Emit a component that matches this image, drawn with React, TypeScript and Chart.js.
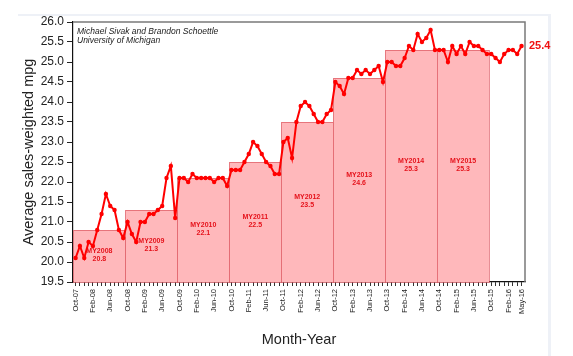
import { useEffect, useRef } from 'react';
import { Chart, registerables } from 'chart.js';

Chart.register(...registerables);

// ---------- data ----------
const MONTH_NAMES = ['Jan', 'Feb', 'Mar', 'Apr', 'May', 'Jun', 'Jul', 'Aug', 'Sep', 'Oct', 'Nov', 'Dec'];
const START_YEAR = 2007;
const START_MONTH = 9; // October

// Monthly average sales-weighted mpg, Oct-07 .. May-16
const mpg = [
  20.1, 20.4, 20.1, 20.5, 20.4, 20.8, 21.2, 21.7, 21.4, 21.3, 20.8, 20.6,
  21.0, 20.7, 20.5, 21.0, 21.0, 21.2, 21.2, 21.3, 21.4, 22.1, 22.4, 21.1,
  22.1, 22.1, 22.0, 22.2, 22.1, 22.1, 22.1, 22.1, 22.0, 22.1, 22.1, 21.9,
  22.3, 22.3, 22.3, 22.5, 22.7, 23.0, 22.9, 22.7, 22.5, 22.4, 22.2, 22.2,
  23.0, 23.1, 22.6, 23.5, 23.9, 24.0, 23.9, 23.7, 23.5, 23.5, 23.7, 23.8,
  24.5, 24.4, 24.2, 24.6, 24.6, 24.8, 24.7, 24.8, 24.7, 24.8, 24.9, 24.5,
  25.0, 25.0, 24.9, 24.9, 25.1, 25.4, 25.3, 25.7, 25.5, 25.6, 25.8, 25.3,
  25.3, 25.3, 25.0, 25.4, 25.2, 25.4, 25.2, 25.5, 25.4, 25.4, 25.3, 25.2,
  25.2, 25.1, 25.0, 25.2, 25.3, 25.3, 25.2, 25.4,
];

const monthLabels = mpg.map((_, i) => {
  const m = START_MONTH + i;
  const year = START_YEAR + Math.floor(m / 12);
  return MONTH_NAMES[m % 12] + '-' + String(year % 100).padStart(2, '0');
});

const shownTickLabels = [
  'Oct-07', 'Feb-08', 'Jun-08', 'Oct-08', 'Feb-09', 'Jun-09', 'Oct-09', 'Feb-10', 'Jun-10',
  'Oct-10', 'Feb-11', 'Jun-11', 'Oct-11', 'Feb-12', 'Jun-12', 'Oct-12', 'Feb-13', 'Jun-13',
  'Oct-13', 'Feb-14', 'Jun-14', 'Oct-14', 'Feb-15', 'Jun-15', 'Oct-15', 'Feb-16', 'May-16',
];

const modelYears = ['MY2008', 'MY2009', 'MY2010', 'MY2011', 'MY2012', 'MY2013', 'MY2014', 'MY2015'];
const modelYearMpg = [20.8, 21.3, 22.1, 22.5, 23.5, 24.6, 25.3, 25.3];
const modelYearStartMonth = ['Oct-07', 'Oct-08', 'Oct-09', 'Oct-10', 'Oct-11', 'Oct-12', 'Oct-13', 'Oct-14'];
const modelYearEndMonth = ['Oct-08', 'Oct-09', 'Oct-10', 'Oct-11', 'Oct-12', 'Oct-13', 'Oct-14', 'Oct-15'];

const yTickValues = [19.5, 20, 20.5, 21, 21.5, 22, 22.5, 23, 23.5, 24, 24.5, 25, 25.5, 26];
const credits = ['Michael Sivak and Brandon Schoettle', 'University of Michigan'];
const yTitle = 'Average sales-weighted mpg';
const xTitle = 'Month-Year';

const FONT = '"Liberation Sans", Arial, Helvetica, sans-serif';
const X_MIN = -0.6;
const X_MAX = 103.8;

const overlayPlugin = {
  id: 'overlay',
  beforeDatasetsDraw(chart: any) {
    const { ctx, chartArea, scales } = chart;
    const x = scales.x;
    const y = scales.y;
    ctx.save();
    modelYears.forEach((name, k) => {
      const s = monthLabels.indexOf(modelYearStartMonth[k]);
      const e = monthLabels.indexOf(modelYearEndMonth[k]);
      const x0 = Math.max(x.getPixelForValue(s - 0.5), chartArea.left);
      const x1 = x.getPixelForValue(e - 0.5);
      const yTop = y.getPixelForValue(modelYearMpg[k]);
      const yBot = y.getPixelForValue(y.min);
      ctx.fillStyle = '#ffb8bb';
      ctx.fillRect(x0, yTop, x1 - x0, yBot - yTop);
      ctx.strokeStyle = 'rgba(215,70,80,0.6)';
      ctx.lineWidth = 1;
      ctx.strokeRect(Math.round(x0) + 0.5, Math.round(yTop) + 0.5, Math.round(x1 - x0), Math.round(yBot - yTop));
      const cx = (x0 + x1) / 2;
      const cy = y.getPixelForValue((modelYearMpg[k] + y.min) / 2);
      ctx.fillStyle = '#e5121b';
      ctx.font = 'bold 7px ' + FONT;
      ctx.textAlign = 'center';
      ctx.textBaseline = 'middle';
      ctx.fillText(name, cx, cy - 5);
      ctx.fillText(modelYearMpg[k].toFixed(1), cx, cy + 3);
    });
    ctx.restore();
  },
  afterDraw(chart: any) {
    const { ctx, chartArea, scales } = chart;
    const y = scales.y;
    ctx.save();
    // top and right frame
    ctx.strokeStyle = '#7a7a7a';
    ctx.lineWidth = 1.5;
    ctx.beginPath();
    ctx.moveTo(chartArea.left, chartArea.top);
    ctx.lineTo(chartArea.right, chartArea.top);
    ctx.lineTo(chartArea.right, chartArea.bottom);
    ctx.stroke();
    // credits
    ctx.fillStyle = '#222';
    ctx.font = 'italic 8.5px ' + FONT;
    ctx.textAlign = 'left';
    ctx.textBaseline = 'alphabetic';
    credits.forEach((t, i) => ctx.fillText(t, chartArea.left + 4, chartArea.top + 11.5 + i * 9.5));
    // end value label
    const last = mpg[mpg.length - 1];
    ctx.fillStyle = '#f01010';
    ctx.font = 'bold 11px ' + FONT;
    ctx.textBaseline = 'middle';
    ctx.fillText(last.toFixed(1), chartArea.right + 4, y.getPixelForValue(last));
    ctx.restore();
  },
};

export default function App() {
  const canvasRef = useRef<HTMLCanvasElement | null>(null);

  useEffect(() => {
    if (!canvasRef.current) return;
    const chart = new Chart(canvasRef.current, {
      type: 'line',
      data: {
        datasets: [
          {
            data: mpg.map((v, i) => ({ x: i, y: v })),
            borderColor: '#ff0000',
            backgroundColor: '#ff0000',
            borderWidth: 2,
            pointRadius: 2.2,
            pointBorderWidth: 0,
            pointBackgroundColor: '#ff0000',
            tension: 0,
            fill: false,
          },
        ],
      },
      options: {
        responsive: false,
        animation: false,
        devicePixelRatio: 1,
        layout: { padding: { left: 0, top: 22, right: 48, bottom: 0 } },
        plugins: { legend: { display: false }, tooltip: { enabled: false } },
        scales: {
          x: {
            type: 'linear',
            min: X_MIN,
            max: X_MAX,
            afterBuildTicks: (scale: any) => {
              scale.ticks = monthLabels.map((_, i) => ({ value: i }));
            },
            afterFit: (scale: any) => {
              scale.height = 74;
            },
            ticks: {
              autoSkip: false,
              minRotation: 90,
              maxRotation: 90,
              padding: 3,
              color: '#222',
              font: { family: FONT, size: 7.5 },
              callback: (value: any) => {
                const lbl = monthLabels[Math.round(Number(value))];
                return shownTickLabels.includes(lbl) ? lbl : '';
              },
            },
            grid: { drawOnChartArea: false, drawTicks: true, tickLength: 4, color: '#333', lineWidth: 1 },
            border: { display: true, color: '#111', width: 1.2 },
            title: {
              display: true,
              text: xTitle,
              color: '#222',
              font: { family: FONT, size: 14.5 },
              padding: { top: 0, bottom: 7 },
            },
          },
          y: {
            type: 'linear',
            min: 19.5,
            max: 26,
            afterBuildTicks: (scale: any) => {
              scale.ticks = yTickValues.map((v) => ({ value: v }));
            },
            afterFit: (scale: any) => {
              scale.width = 73;
            },
            ticks: {
              color: '#222',
              padding: 3,
              font: { family: FONT, size: 12 },
              callback: (value: any) => Number(value).toFixed(1),
            },
            grid: { drawOnChartArea: false, drawTicks: true, tickLength: 6, color: '#222', lineWidth: 1 },
            border: { display: true, color: '#111', width: 1.2 },
            title: {
              display: true,
              text: yTitle,
              color: '#222',
              font: { family: FONT, size: 14.5 },
              padding: { top: 20, bottom: 0 },
            },
          },
        },
      },
      plugins: [overlayPlugin],
    } as any);
    return () => chart.destroy();
  }, []);

  return (
    <div style={{ position: 'absolute', left: 0, top: 0, width: 573, height: 356, background: '#fff' }}>
      <div
        style={{
          position: 'absolute',
          left: 18,
          top: 14,
          width: 533,
          height: 342,
          borderTop: '2px solid #eef1f7',
          borderRight: '3px solid #eef1f7',
          boxSizing: 'border-box',
        }}
      />
      <canvas
        ref={canvasRef}
        width={573}
        height={356}
        style={{ position: 'absolute', left: 0, top: 0, width: 573, height: 356 }}
      />
    </div>
  );
}
